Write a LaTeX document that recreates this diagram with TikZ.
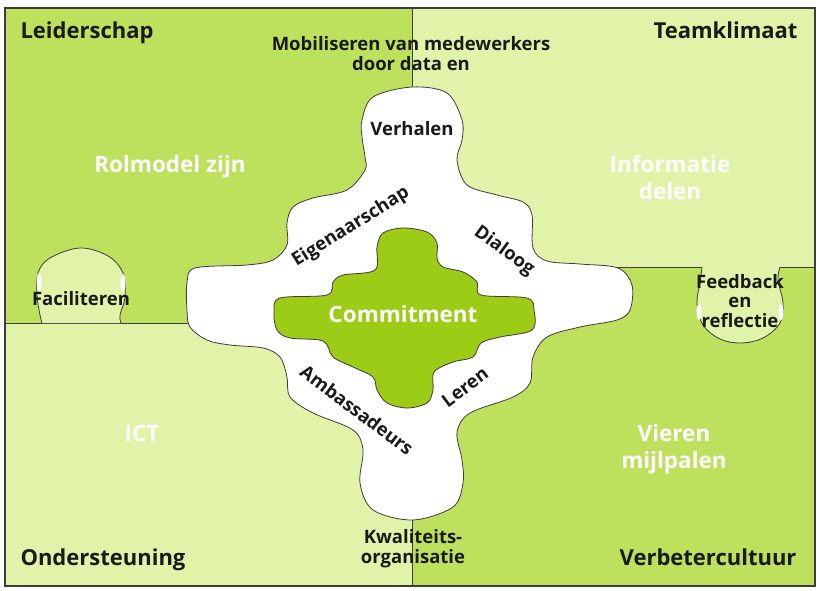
\documentclass[tikz,border=0pt]{standalone}
\usepackage{fontspec}
\setmainfont{Open Sans}
\usepackage{tikz}

\definecolor{darkleaf}{HTML}{BEE15D}
\definecolor{lightleaf}{HTML}{E0F3A9}
\definecolor{heart}{HTML}{9CCC16}
\definecolor{ink}{HTML}{1A1A1A}

\begin{document}
\begin{tikzpicture} [x=1pt, y=-1pt,
	ttl/.style={font=\bfseries\fontsize{22}{24}\selectfont, text=ink},
	lbl/.style={font=\bfseries\fontsize{18.5}{19.5}\selectfont, text=ink, align=center},
	wlbl/.style={font=\bfseries\fontsize{22.5}{27}\selectfont, text=white, align=center},
	edge/.style={draw=ink!85, line width=0.8pt}]
		\useasboundingbox (0, 0) rectangle (821, 590);
		% vlakken
		\fill[darkleaf] (5, 8) rectangle (412, 323);
		\fill[lightleaf] (412, 8) rectangle (815, 267);
		\fill[lightleaf] (5, 323) rectangle (412, 586);
		\fill[darkleaf] (412, 267) rectangle (815, 586);
		\draw[edge] (412, 8) -- (412, 586);
		\draw[edge] (5, 323) -- (412, 323);
		\draw[edge] (412, 267) -- (815, 267);
		% puzzelstukjes
		\fill[lightleaf] plot[smooth, tension=0.6] coordinates {(42,323) (40,315) (37,295) (38,273) (50,258) (80,248) (108,256) (123,273) (125,297) (120,315) (121,323)} -- cycle;
		\draw[edge] plot[smooth, tension=0.6] coordinates {(42,323) (40,315) (37,295) (38,273) (50,258) (80,248) (108,256) (123,273) (125,297) (120,315) (121,323)};
		\fill[lightleaf] plot[smooth, tension=0.6] coordinates {(702,267) (700,283) (697,303) (703,325) (720,339) (741,343) (763,338) (780,323) (783,303) (778,280) (780,267)} -- cycle;
		\draw[edge] plot[smooth, tension=0.6] coordinates {(702,267) (700,283) (697,303) (703,325) (720,339) (741,343) (763,338) (780,323) (783,303) (778,280) (780,267)};
			\fill[white] (39, 282) ellipse (2.5 and 9);
			\fill[white] (123, 283) ellipse (2.5 and 9);
			\fill[white] (699, 312) ellipse (2.5 and 8);
			\fill[white] (781, 312) ellipse (2.5 and 8);
		\draw[ink!85, line width=1.5pt] (5, 8) rectangle (815, 586);
		% witte kruis
		\filldraw[fill=white, edge] plot[smooth cycle, tension=0.55] coordinates {
			(412,87) (447,93) (462,120) (462,140) (457,160) (467,185) (497,195) (523,202) (532,215) (533,248)
			(547,261) (580,264) (618,268) (632,285) (630,310) (617,320) (580,327) (547,337) (533,357) (530,383)
			(513,397) (470,413) (457,432) (462,460) (463,483) (453,507) (413,520) (373,510) (360,483) (363,450)
			(353,430) (313,413) (290,397) (287,377) (280,357) (263,348) (230,345) (207,340) (190,327) (187,310)
			(187,283) (195,268) (247,265) (273,260) (287,245) (287,223) (293,207) (313,198) (347,190) (365,170)
			(365,157) (362,137) (362,120) (373,97)};
		% groene kern
		\filldraw[fill=heart, edge] plot[smooth cycle, tension=0.55] coordinates {
			(403,228) (427,232) (437,243) (437,258) (443,267) (463,272) (477,282) (481,295) (527,298) (534,310)
			(532,330) (500,337) (481,343) (473,357) (453,362) (434,372) (433,390) (427,403) (407,408) (387,403)
			(377,390) (373,377) (353,367) (333,357) (323,341) (290,338) (277,330) (274,312) (280,298) (327,295)
			(333,282) (343,275) (375,270) (377,247) (383,233)};
		% teksten
		\node[ttl, anchor=base west] (leider) at (17, 38) {Leiderschap};
		\node[ttl, anchor=base east] (team) at (801, 38) {Teamklimaat};
		\node[ttl, anchor=base west] (onder) at (17, 565) {Ondersteuning};
		\node[ttl, anchor=base east] (verbeter) at (800, 565) {Verbetercultuur};
		\node[lbl, anchor=base] (mobil) at (411, 70) {Mobiliseren van medewerkers\\door data en};
		\node[lbl, anchor=base] (verhalen) at (412, 135) {Verhalen};
		\node[lbl, anchor=base] (facil) at (81, 305) {Faciliteren};
		\node[lbl, anchor=base] (feedback) at (740, 327) {Feedback\\en\\reflectie};
		\node[lbl, anchor=base] (kwal) at (413, 563) {Kwaliteits-\\organisatie};
		\node[lbl, rotate=32] (eigen) at (351, 227) {Eigenaarschap};
		\node[lbl, rotate=-36] (dialoog) at (504, 251) {Dialoog};
		\node[lbl, rotate=-37] (ambas) at (357, 410) {Ambassadeurs};
		\node[lbl, rotate=37] (leren) at (465, 387) {Leren};
			\node[wlbl, anchor=base] (rolmodel) at (170, 172) {Rolmodel zijn};
			\node[wlbl, anchor=base] (info) at (670, 199) {Informatie\\delen};
			\node[wlbl, anchor=base] (ict) at (142, 441) {ICT};
			\node[wlbl, anchor=base] (vieren) at (674, 468) {Vieren\\mijlpalen};
			\node[wlbl, anchor=base] (commit) at (403, 322) {Commitment};
\end{tikzpicture}
\end{document}
